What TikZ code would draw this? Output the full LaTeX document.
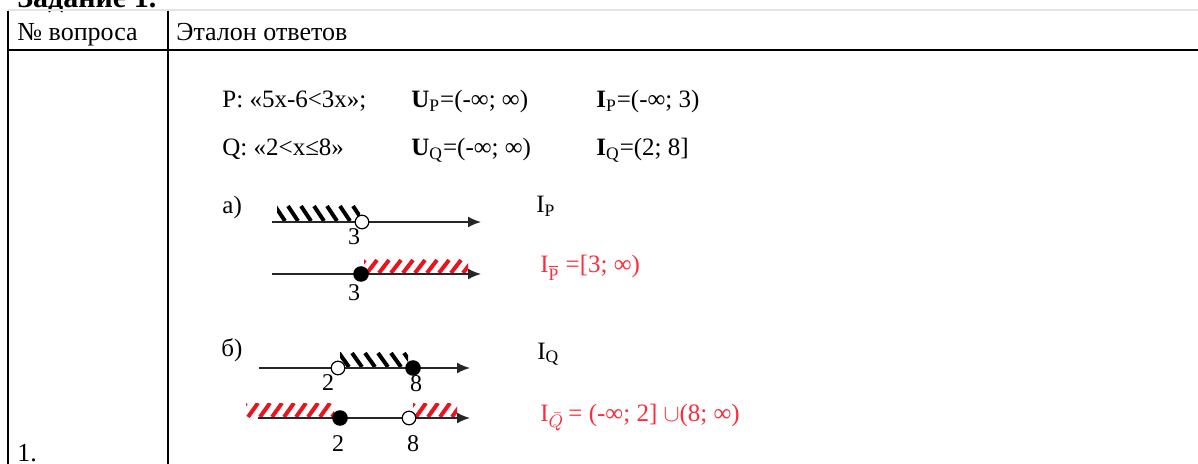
\documentclass[tikz,border=0pt]{standalone}
\usepackage{fontspec}
\setmainfont{Liberation Serif}
\usetikzlibrary{arrows.meta, positioning}
\definecolor{strokered}{RGB}{235,20,30}
\definecolor{labelred}{RGB}{250,45,60}
\tikzset{
	rule/.style={line width=1pt, black},
	thinrule/.style={line width=0.6pt, black!10},
	axis/.style={-{Latex[length=6.5pt,width=5.5pt]}, line width=0.9pt, black!85},
	openpt/.style={circle, draw=black, line width=0.6pt, fill=white, inner sep=0pt, minimum size=6.8pt},
	fullpt/.style={circle, fill=black, inner sep=0pt, minimum size=7.8pt},
	hatchblack/.style={line width=2pt, black},
	hatchred/.style={line width=2pt, strokered},
	celltext/.style={anchor=base west, inner sep=0pt, font=\fontsize{13}{15}\selectfont},
	formula/.style={anchor=base west, inner sep=0pt, font=\fontsize{12.5}{15}\selectfont},
	numlabel/.style={anchor=base, inner sep=0pt, font=\fontsize{12}{14}\selectfont},
	redlabel/.style={formula, text=labelred},
	% title of the task, cut by the page edge
	tasktitle/.style={anchor=base west, inner sep=0pt, font=\fontsize{15}{18}\selectfont\bfseries},
}

\begin{document}
\begin{tikzpicture}[x=0.5pt,y=-0.5pt]
	\useasboundingbox (0,0) rectangle (1198,464);
	% table
	\node[tasktitle](title) at (17,8){Задание 1.};
	\draw[thinrule] (8,10) -- (1198,10);
	\draw[rule] (7.5,11) -- (7.5,464);
	\draw[rule] (167.5,11) -- (167.5,464);
	\draw[rule] (7,50) -- (1198,50);
	\node[celltext](hnum) at (17,41){№ вопроса};
	\node[celltext](hans) at (176,41){Эталон ответов};
	\node[celltext](qnum) at (17,461){1.};
	% statements
	\node[formula](p) at (222,108){P: «5x-6<3x»;};
	\node[formula](up) at (411,108){\textbf{U}\textsubscript{P}=(-∞; ∞)};
	\node[formula](ip) at (596,108){\textbf{I}\textsubscript{P}=(-∞; 3)};
	\node[formula](q) at (222,156){Q: «2<x≤8»};
	\node[formula](uq) at (411,156){\textbf{U}\textsubscript{Q}=(-∞; ∞)};
	\node[formula](iq) at (596,156){\textbf{I}\textsubscript{Q}=(2; 8]};
	% part a
	\node[formula](parta) at (222,214){а)};
	\begin{scope}
		\clip (277,206) rectangle (360,221);
		\foreach \hx in {262,275,...,372} \draw[hatchblack] (\hx,206) -- ++(10,15);
	\end{scope}
	\coordinate (a1s) at (272,222); \coordinate (a1e) at (481,222);
	\draw[axis] (a1s) -- (a1e);
	\node[openpt](a1p) at (362,222){};
	\node[numlabel](a1n) at (354,245){3};
	\node[formula](a1l) at (536,213){I\textsubscript{P}};
	\begin{scope}
		\clip (364,260) rectangle (468,273);
		\foreach \hx in {355,367,...,475} \draw[hatchred] (\hx,273) -- ++(10,-13);
	\end{scope}
	\coordinate (a2s) at (272,274); \coordinate (a2e) at (481,274);
	\draw[axis] (a2s) -- (a2e);
	\node[fullpt](a2p) at (361,274){};
	\node[numlabel](a2n) at (354,301){3};
	\node[redlabel](a2l) at (540,273){I\textsubscript{\(\overline{\mathrm{P}}\)} =[3; ∞)};
	% part b
	\node[formula](partb) at (221,357){б)};
	\begin{scope}
		\clip (340,353) rectangle (408,367);
		\foreach \hx in {326,339,...,412} \draw[hatchblack] (\hx,353) -- ++(10,14);
	\end{scope}
	\coordinate (b1s) at (259,368); \coordinate (b1e) at (470,368);
	\draw[axis] (b1s) -- (b1e);
	\node[openpt](b1p) at (338,368){};
	\node[fullpt](b1q) at (413,368){};
	\node[numlabel](b1n) at (328,390){2};
	\node[numlabel](b1m) at (416,392){8};
	\node[formula](b1l) at (537,359){I\textsubscript{Q}};
	\begin{scope}
		\clip (246,403) rectangle (334,417);
		\foreach \hx in {236,248,...,340} \draw[hatchred] (\hx,417) -- ++(10,-14);
	\end{scope}
	\begin{scope}
		\clip (413,403) rectangle (457,417);
		\foreach \hx in {404,416,...,460} \draw[hatchred] (\hx,417) -- ++(10,-14);
	\end{scope}
	\coordinate (b2s) at (258,418); \coordinate (b2e) at (470,418);
	\draw[axis] (b2s) -- (b2e);
	\node[fullpt](b2p) at (340,418){};
	\node[openpt](b2q) at (409,418){};
	\node[numlabel](b2n) at (338,451){2};
	\node[numlabel](b2m) at (413,451){8};
	\node[redlabel](b2l) at (540,421){I\textsubscript{\(\bar{Q}\)}\,= (-∞; 2] \(\cup\)(8; ∞)};
\end{tikzpicture}
\end{document}
